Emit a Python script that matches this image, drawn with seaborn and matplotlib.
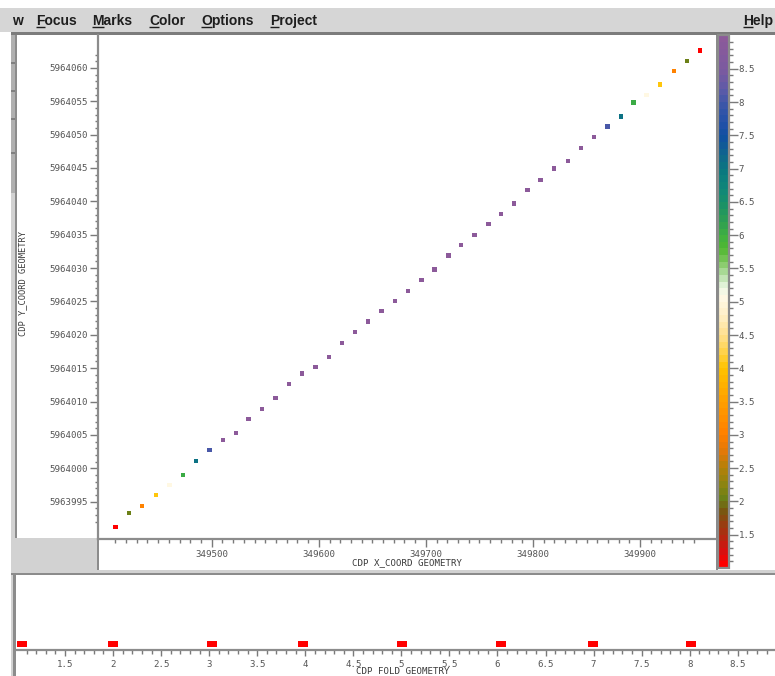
import numpy as np
import pandas as pd
import seaborn as sns
import matplotlib
matplotlib.use("Agg")
import matplotlib.pyplot as plt
from matplotlib.patches import Rectangle
from matplotlib.lines import Line2D
from matplotlib.colors import LinearSegmentedColormap, Normalize
from matplotlib.cm import ScalarMappable
from matplotlib.path import Path

# ---- CDP geometry ---------------------------------------------------------
cdp_x = [349410.0, 349423.0, 349435.0, 349448.0, 349460.5, 349473.0, 349485.5,
         349498.0, 349510.5, 349522.5, 349534.5, 349547.0, 349559.5, 349572.0,
         349584.5, 349597.0, 349609.5, 349621.5, 349634.0, 349646.0, 349658.5,
         349671.0, 349683.5, 349696.0, 349708.0, 349721.0, 349733.0, 349745.5,
         349758.5, 349770.0, 349782.5, 349795.0, 349807.0, 349819.5, 349832.5,
         349845.0, 349857.0, 349869.5, 349882.0, 349894.0, 349906.0, 349918.5,
         349931.5, 349944.0, 349956.0]
cdp_y = [5963991.2, 5963993.3, 5963994.3, 5963996.0, 5963997.5, 5963999.0,
         5964001.1, 5964002.7, 5964004.2, 5964005.3, 5964007.4, 5964008.9,
         5964010.5, 5964012.6, 5964014.2, 5964015.2, 5964016.7, 5964018.8,
         5964020.4, 5964022.0, 5964023.6, 5964025.1, 5964026.6, 5964028.2,
         5964029.8, 5964031.9, 5964033.5, 5964035.0, 5964036.6, 5964038.1,
         5964039.7, 5964041.7, 5964043.2, 5964044.9, 5964046.0, 5964048.0,
         5964049.6, 5964051.2, 5964052.7, 5964054.8, 5964055.9, 5964057.5,
         5964059.5, 5964061.0, 5964062.6]
cdp_fold = [1, 2, 3, 4, 5, 6, 7, 8,
            9, 9, 9, 9, 9, 9, 9, 9, 9, 9, 9, 9, 9, 9, 9,
            9, 9, 9, 9, 9, 9, 9, 9, 9, 9, 9, 9, 9, 9,
            8, 7, 6, 5, 4, 3, 2, 1]

# fold values shown in the lower 1-D plot
fold_marks = [1.05, 2.0, 3.03, 3.98, 5.01, 6.04, 6.99, 8.01]

# tick labels
x_ticks = [349500, 349600, 349700, 349800, 349900]
y_ticks = [5963995, 5964000, 5964005, 5964010, 5964015, 5964020, 5964025,
           5964030, 5964035, 5964040, 5964045, 5964050, 5964055, 5964060]
fold_ticks = [1.5, 2, 2.5, 3, 3.5, 4, 4.5, 5, 5.5, 6, 6.5, 7, 7.5, 8, 8.5]
fold_tick_labels = ["1.5", "2", "2.5", "3", "3.5", "4", "4.5", "5", "5.5",
                    "6", "6.5", "7", "7.5", "8", "8.5"]
menu_items = ["w", "Focus", "Marks", "Color", "Options", "Project", "Help"]

# fold colour scale (value, colour)
fold_colors = [(1.0, "#ff0000"), (1.2, "#d81010"), (1.5, "#a83010"),
               (1.8, "#7a5410"), (2.0, "#6a8018"), (2.2, "#8a8410"),
               (2.5, "#b88008"), (2.7, "#e07808"), (3.0, "#ff8000"),
               (3.5, "#ffa000"), (4.0, "#ffc400"), (4.2, "#ffd040"),
               (4.5, "#ffe090"), (4.8, "#fff0c8"), (5.06, "#fff8e4"),
               (5.2, "#eef8e6"), (5.4, "#b8e0a8"), (5.6, "#80c860"),
               (5.8, "#50b830"), (6.0, "#40b040"), (6.2, "#30a050"),
               (6.5, "#189068"), (6.7, "#108878"), (7.0, "#0a7880"),
               (7.2, "#10688a"), (7.5, "#1050a0"), (7.7, "#2050a8"),
               (8.0, "#3c56a8"), (8.2, "#5a5aa8"), (8.5, "#7a5aa0"),
               (9.0, "#8c5a9a")]

# ---- figure setup -----------------------------------------------------------
W, H = 775, 676
plt.rcParams["font.family"] = ["DejaVu Sans Mono"]
fig = plt.figure(figsize=(W / 100, H / 100), dpi=100, facecolor="white")


def box(l, t, r, b):
    return [l / W, 1 - b / H, (r - l) / W, (b - t) / H]


def rect(l, t, r, b, color, z=-5):
    fig.add_artist(Rectangle((l / W, 1 - b / H), (r - l) / W, (b - t) / H,
                             transform=fig.transFigure, facecolor=color,
                             edgecolor="none", lw=0, zorder=z))


GRID = "#8c8c8c"
PANEL_GRAY = "#d2d2d2"
TICK = "#7a7a7a"
LABEL = "#555555"

# window chrome
rect(0, 7.5, W, 32, "#d6d6d6")
rect(11, 32, W, 34.5, "#7c7c7c")
rect(11, 34.5, 15, 193, "#b0b0b0")
rect(11, 193, 15, H, PANEL_GRAY)
for yy in (62, 90, 118, 152):
    rect(11, yy, 15, yy + 1.5, "#808080")
rect(15, 34.5, 16.5, 538, GRID)
rect(15, 538, 98, 570, PANEL_GRAY)
rect(11, 570, W, 573, PANEL_GRAY)
rect(11, 573, W, 575, GRID)
rect(13, 575, 16, H, GRID)
rect(97, 539, 99, 570, GRID, z=3)
rect(716, 34.5, 718, 570, "#8a8a8a", z=3)

# menu bar with underlined mnemonics
menu_x = [12, 36, 92, 149, 201, 270, 743]
renderer = fig.canvas.get_renderer()
menu_font = dict(fontsize=10, fontweight="bold", family="Liberation Sans",
                 va="baseline", ha="left")
for word, mx in zip(menu_items, menu_x):
    fig.text(mx / W, 1 - 25 / H, word, color="#1e1e1e", **menu_font)
    if word != "w":
        probe = fig.text(mx / W, 1 - 25 / H, word[0], **menu_font)
        ext = probe.get_window_extent(renderer=renderer)
        probe.remove()
        fig.add_artist(Line2D([ext.x0 / W, ext.x1 / W],
                              [1 - 26.8 / H, 1 - 26.8 / H],
                              transform=fig.transFigure, color="#1e1e1e",
                              lw=1.0, solid_capstyle="butt"))

# ---- CDP map (x/y coloured by fold) --------------------------------------
df = pd.DataFrame({"cdp_x": cdp_x, "cdp_y": cdp_y, "fold": cdp_fold})
fold_cmap = LinearSegmentedColormap.from_list(
    "fold", [((v - 1.0) / 8.0, c) for v, c in fold_colors], N=80)
fold_norm = Normalize(vmin=1, vmax=9)

ax = fig.add_axes(box(98, 34.5, 716, 539))
ax.set_facecolor("white")
sns.scatterplot(data=df, x="cdp_x", y="cdp_y", hue="fold", palette=fold_cmap,
                hue_norm=fold_norm, marker="s", s=10, linewidth=0,
                legend=False, ax=ax)
ax.set_xlim(349393.8, 349970.9)
ax.set_ylim(5963989.4, 5964065.0)
ax.set_xlabel("")
ax.set_ylabel("")
for side in ("top", "right"):
    ax.spines[side].set_visible(False)
for side in ("left", "bottom"):
    ax.spines[side].set_color(GRID)
    ax.spines[side].set_linewidth(1.6)

ax.set_xticks(x_ticks, labels=[str(v) for v in x_ticks])
ax.set_xticks([v for v in np.arange(349410, 349951, 10) if v % 100 != 0], minor=True)
ax.set_yticks(y_ticks, labels=[str(v) for v in y_ticks])
ax.set_yticks([v for v in np.arange(5963992, 5964063, 1) if v % 5 != 0], minor=True)
ax.tick_params(axis="x", which="major", direction="out", length=5.4, width=1,
               color=TICK, labelsize=6.6, labelcolor=LABEL, pad=2.6)
ax.tick_params(axis="x", which="minor", direction="out", length=2.9, width=1,
               color=TICK)
ax.tick_params(axis="y", which="major", direction="out", length=5.8, width=1,
               color=TICK, labelsize=6.6, labelcolor=LABEL, pad=1.2)
ax.tick_params(axis="y", which="minor", direction="out", length=2.4, width=1,
               color=TICK)

fig.text(407 / W, 1 - 562.5 / H, "CDP X_COORD GEOMETRY", fontsize=6.6,
         color="#3a3a3a", ha="center", va="center")
fig.text(23 / W, 1 - 284 / H, "CDP Y_COORD GEOMETRY", fontsize=6.3,
         color="#3a3a3a", ha="center", va="center", rotation=90)

# ---- fold colour bar ---------------------------------------------------
cax = fig.add_axes(box(718, 35.5, 728.5, 568))
cb = fig.colorbar(ScalarMappable(norm=fold_norm, cmap=fold_cmap), cax=cax)
cb.outline.set_edgecolor(GRID)
cb.outline.set_linewidth(1.6)
cb.set_ticks(fold_ticks, labels=fold_tick_labels)
cb.set_ticks([round(v, 1) for v in np.arange(1.1, 8.95, 0.1)
              if abs(v * 2 - round(v * 2)) > 1e-6], minor=True)
cax.tick_params(which="major", direction="out", length=6.5, width=1,
                color=TICK, labelsize=6.6, labelcolor=LABEL, pad=0.8)
cax.tick_params(which="minor", direction="out", length=3.0, width=1, color=TICK)

# ---- fold 1-D plot ---------------------------------------------------------
bax = fig.add_axes(box(16, 575, W, 650))
bax.set_facecolor("none")
bar_marker = Path([(-5, -3), (5, -3), (5, 3), (-5, 3), (-5, -3)],
                  [Path.MOVETO, Path.LINETO, Path.LINETO, Path.LINETO,
                   Path.CLOSEPOLY])
bdf = pd.DataFrame({"fold": fold_marks, "level": [0.08] * len(fold_marks)})
sns.scatterplot(data=bdf, x="fold", y="level", color="#ff0000",
                marker=bar_marker, s=52, linewidth=0, legend=False, ax=bax)
bax.set_xlim(0.9896, 8.888)
bax.set_ylim(0, 1)
bax.set_xlabel("")
bax.set_ylabel("")
bax.set_yticks([])
for side in ("top", "right", "left"):
    bax.spines[side].set_visible(False)
bax.spines["bottom"].set_color(GRID)
bax.spines["bottom"].set_linewidth(1.6)
bax.set_xticks(fold_ticks, labels=fold_tick_labels)
bax.set_xticks([round(v, 1) for v in np.arange(1.0, 8.85, 0.1)
                if abs(v * 2 - round(v * 2)) > 1e-6], minor=True)
bax.tick_params(axis="x", which="major", direction="out", length=4.3, width=1,
                color=TICK, labelsize=6.6, labelcolor=LABEL, pad=2.6)
bax.tick_params(axis="x", which="minor", direction="out", length=2.9, width=1,
                color=TICK)
fig.text(403 / W, 1 - 671.5 / H, "CDP FOLD GEOMETRY", fontsize=6.6,
         color="#3a3a3a", ha="center", va="center")

fig.savefig("out.png", dpi=100, facecolor=fig.get_facecolor())
